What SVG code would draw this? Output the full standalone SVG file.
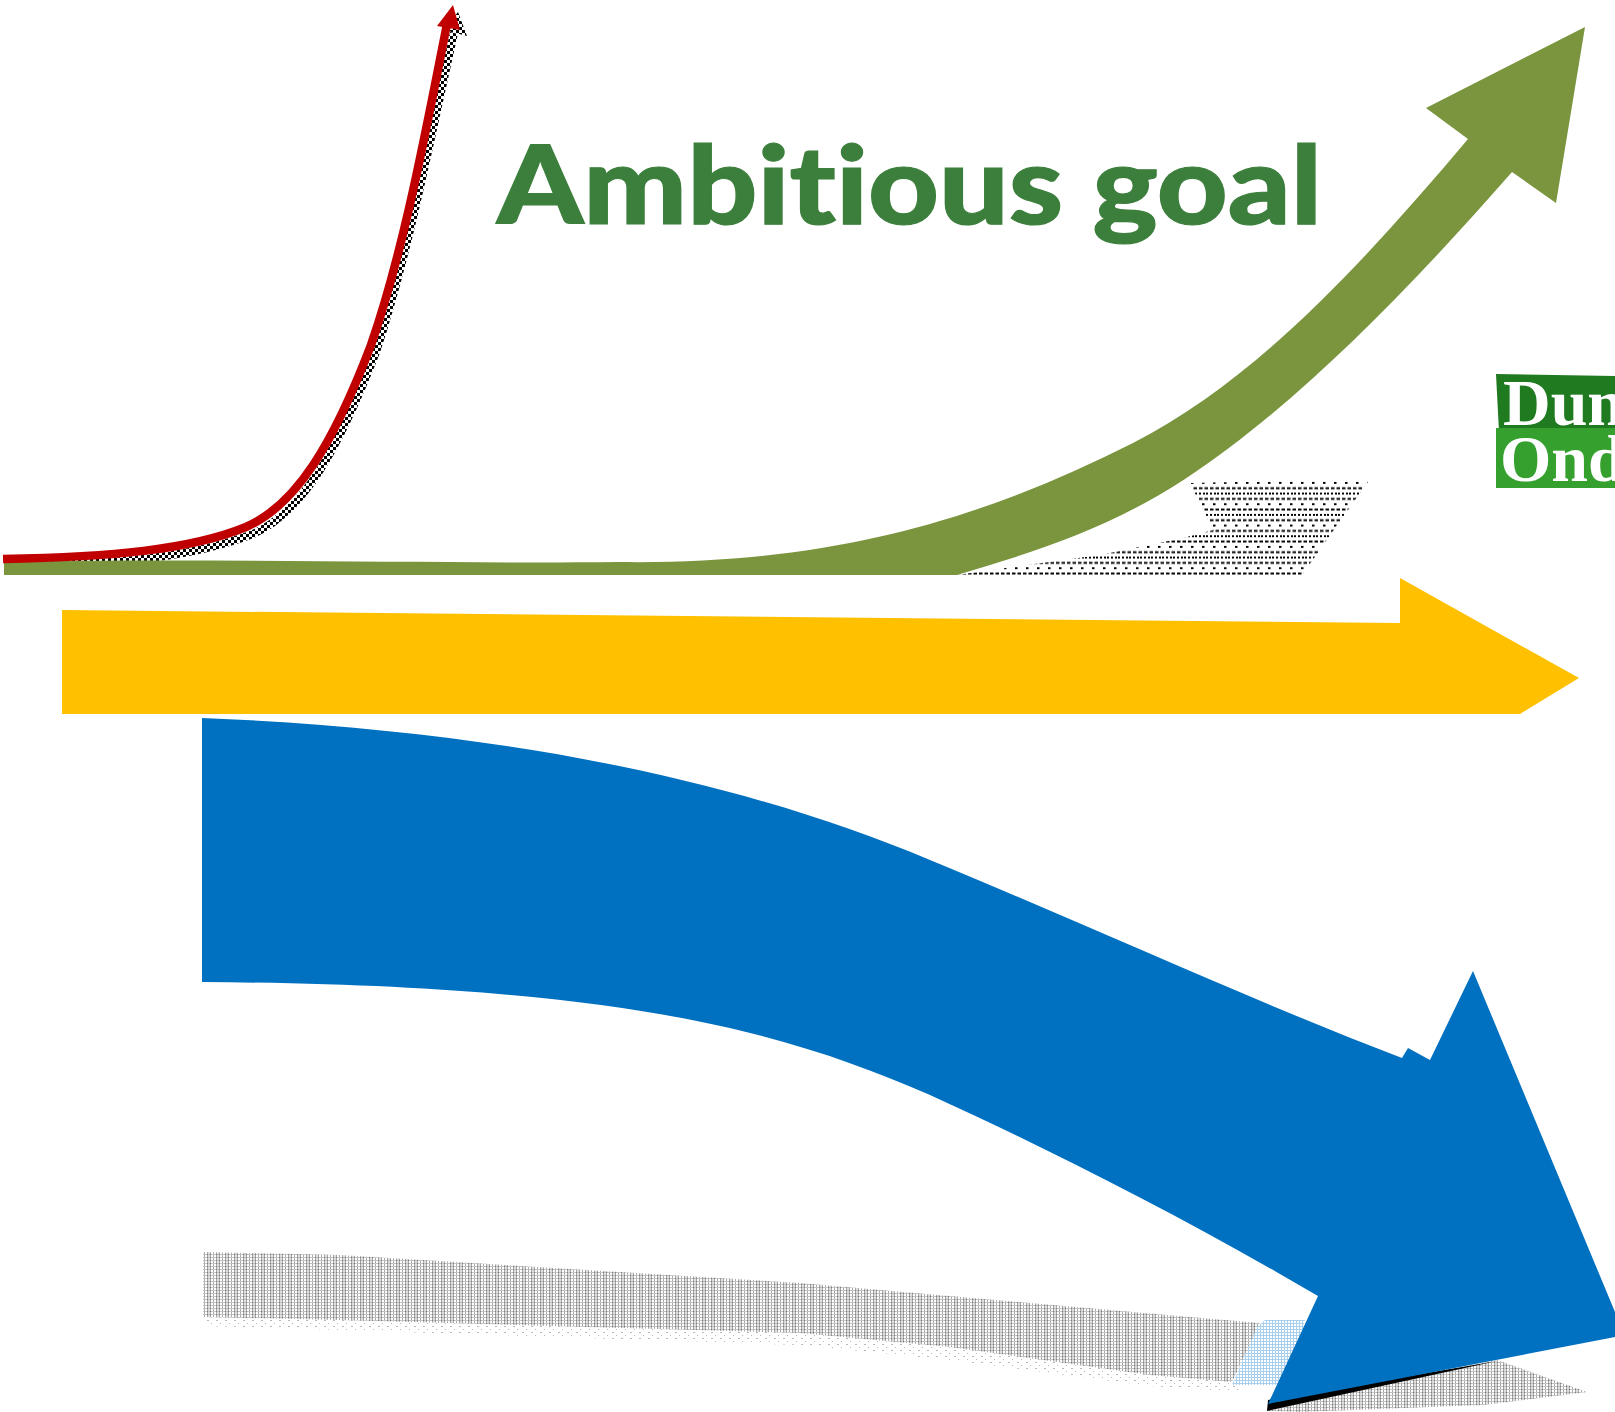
<svg xmlns="http://www.w3.org/2000/svg" width="1615" height="1412" viewBox="0 0 1615 1412">
<style>
.title{font-family:"Lato","Liberation Sans",sans-serif;font-weight:900;font-size:108px;fill:#3c7f3c;stroke:#3c7f3c;stroke-width:1.2;font-variant-ligatures:none}
.logo{font-family:"Liberation Serif",serif;font-weight:700;font-size:66px;fill:#fff}
</style>
<defs>
<pattern id="dots" width="22" height="21.33" patternUnits="userSpaceOnUse" x="0" y="2">
<path fill="#000" d="M0 0h2v2H0zM4 0h2v2H4zM7 0h2v2H7zM11 0h2v2H11zM15 0h2v2H15zM18 0h2v2H18zM0 5.33h3.5v2H0zM5.5 5.33h3.5v2H5.5zM11 5.33h3.5v2H11zM16.5 5.33h3.5v2H16.5zM3 10.67h2.5v2H3zM14 10.67h2.5v2H14zM0 16h3.5v2H0zM5.5 16h3.5v2H5.5zM11 16h3.5v2H11zM16.5 16h3.5v2H16.5z"/>
</pattern>
<pattern id="check" width="6" height="6" patternUnits="userSpaceOnUse">
<path fill="#000" d="M0 0h3v3H0zM3 3h3v3H3z"/>
</pattern>
<pattern id="gray" width="9" height="3" patternUnits="userSpaceOnUse">
<path fill="#c4c4c4" d="M0 0h9v1H0z"/><path fill="#a8a8a8" d="M0 1h1v2H0zM3 1h1v2H3zM6 1h1v2H6z"/><path fill="#7f7f7f" d="M0 0h1v1H0zM3 0h1v1H3z"/><path fill="#dedede" d="M1 1h2v2H1z"/>
</pattern>
<pattern id="sparse" width="9" height="6" patternUnits="userSpaceOnUse">
<path fill="#b8b8b8" d="M0 0h2v1H0zM4 3h1v1H4z"/>
</pattern>
<pattern id="paleblue" width="3" height="3" patternUnits="userSpaceOnUse">
<path fill="#a9cfee" d="M0 0h3v1H0zM0 1h1v2H0z"/>
</pattern>
</defs>
<g id="green-shadow"><path fill="url(#dots)" d="M957 575L1013 567L1100 555L1183 538L1213 530L1190 483L1370 479L1302 575Z"/></g>
<g id="red-shadow"><path fill="none" stroke="url(#check)" stroke-width="8" d="M10 566C120 564 190 558 253 534C303 512 338 450 376 352C408 255 430 140 454 33"/><path fill="url(#check)" d="M458 12L444 30L467 36Z"/></g>
<g id="green-arrow"><path fill="#7a953e" d="M4 562C200 558 450 564 618 562C830 565 980 520 1133 443C1260 378 1370 255 1468 139L1426 108L1585 27L1556 203L1512 172C1400 300 1290 410 1185 479C1110 528 1035 552 957 575H4Z"/></g>
<g id="red-arrow"><path fill="none" stroke="#c00000" stroke-width="8.5" d="M3 559C110 557 190 550 246 527C296 505 333 445 371 345C404 250 426 130 447 24"/><path fill="#c00000" d="M453 5L437 26L460 30Z"/></g>
<g id="yellow-arrow"><path fill="#ffc000" d="M62 610L1400 623V578L1579 678L1520 714H62Z"/></g>
<g id="gray-shadow"><path fill="url(#sparse)" d="M203 1317L340 1320L800 1333L950 1347L1150 1375L1232 1382L1240 1392L1150 1386L950 1360L800 1345L340 1330L203 1326Z"/><path fill="url(#gray)" d="M203 1252L340 1255L800 1283L950 1296L1190 1317L1260 1323L1232 1382L1150 1375L950 1347L800 1333L340 1320L203 1317Z"/><path fill="url(#gray)" d="M1497 1360L1587 1392L1483 1405L1300 1412L1267 1411Z"/><path fill="url(#paleblue)" d="M1257 1327L1265 1320L1305 1320L1290 1385L1232 1385Z"/></g>
<g id="blue-arrow"><path fill="#000" d="M1267 1411L1497 1361L1268 1400Z"/><path fill="#0070c0" d="M202 718C500 730 740 780 930 860C1100 930 1250 1000 1402 1058L1408 1048L1430 1060L1473 971L1615 1312V1337L1268 1404L1318 1296C1180 1215 1040 1145 930 1095C780 1030 620 985 202 982Z"/></g>
<g id="title"><text class="title" x="497" y="224" textLength="825" lengthAdjust="spacingAndGlyphs">Ambitious goal</text></g>
<g id="logo"><path fill="#207a20" d="M1496 374L1615 376V432H1499Z"/><path fill="#35a02e" d="M1496 428H1615V488H1496Z"/><text class="logo" x="1503" y="425">Dun</text><text class="logo" x="1500" y="481">Ond</text></g>
</svg>
